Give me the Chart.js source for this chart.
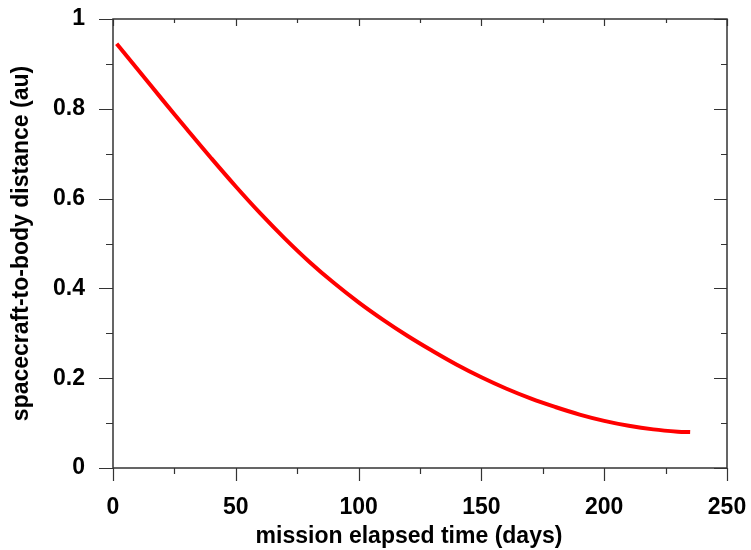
<!DOCTYPE html>
<html>
<head>
<meta charset="utf-8">
<script src="https://cdn.jsdelivr.net/npm/chart.js@4/dist/chart.umd.min.js"></script>
<style>
  html, body { margin: 0; padding: 0; background: #fff; }
  #wrap { width: 751px; height: 550px; }
</style>
</head>
<body>
<div id="wrap"><canvas id="myChart" width="751" height="550"></canvas></div>
<script>
// values
const days = [1.5, 10, 20, 30, 40, 50, 60, 70, 80, 90, 100, 110, 120, 130, 140, 150, 160, 170, 180, 190, 200, 210, 220, 230, 235];
const distance = [0.945, 0.888, 0.821, 0.755, 0.69, 0.627, 0.567, 0.511, 0.459, 0.412, 0.369, 0.33, 0.294, 0.261, 0.23, 0.202, 0.177, 0.155, 0.136, 0.119, 0.105, 0.094, 0.086, 0.081, 0.080];

const xTitle = 'mission elapsed time (days)';
const yTitle = 'spacecraft-to-body distance (au)';
const xRange = [0, 250];
const yRange = [0, 1];
const xStep = 50;
const yStep = 0.2;

const FONT = '"Liberation Sans", Arial, Helvetica, sans-serif';

// frame, tick marks (major + minor) and axis titles
const frameTicks = {
  id: 'frameTicks',
  afterDraw(chart) {
    const ctx = chart.ctx;
    const a = chart.chartArea;
    const x = chart.scales.x;
    const y = chart.scales.y;
    ctx.save();
    ctx.strokeStyle = '#333';
    ctx.lineWidth = 1.5;
    ctx.strokeRect(a.left, a.top, a.right - a.left, a.bottom - a.top);

    ctx.lineWidth = 1.2;
    ctx.beginPath();
    // x: outward below, inward at top
    for (let i = 0; i <= (xRange[1] - xRange[0]) / (xStep / 2); i++) {
      const v = xRange[0] + i * xStep / 2;
      const px = Math.round(x.getPixelForValue(v)) + 0.5;
      const major = i % 2 === 0;
      ctx.moveTo(px, a.bottom);
      ctx.lineTo(px, a.bottom + (major ? 13 : 6));
      ctx.moveTo(px, a.top);
      ctx.lineTo(px, a.top + (major ? 7 : 4));
    }
    // y: outward left, inward right
    for (let i = 0; i <= Math.round((yRange[1] - yRange[0]) / (yStep / 2)); i++) {
      const v = yRange[0] + i * yStep / 2;
      const py = Math.round(y.getPixelForValue(v)) + 0.5;
      const major = i % 2 === 0;
      ctx.moveTo(a.left, py);
      ctx.lineTo(a.left - (major ? 14 : 7), py);
      ctx.moveTo(a.right, py);
      ctx.lineTo(a.right - (major ? 13 : 6), py);
    }
    ctx.stroke();

    ctx.fillStyle = '#000';
    ctx.font = 'bold 23px ' + FONT;
    ctx.textAlign = 'center';
    ctx.textBaseline = 'middle';
    ctx.fillText(xTitle, 409, 537);
    ctx.translate(22, (a.top + a.bottom) / 2);
    ctx.rotate(-Math.PI / 2);
    ctx.fillText(yTitle, 0, 0);
    ctx.restore();
  }
};

new Chart(document.getElementById('myChart'), {
  type: 'line',
  data: {
    datasets: [{
      data: days.map((d, i) => ({ x: d, y: distance[i] })),
      borderColor: '#ff0000',
      borderWidth: 4,
      pointRadius: 0,
      tension: 0.4,
      fill: false
    }]
  },
  options: {
    responsive: false,
    animation: false,
    layout: { padding: { top: 19, right: 24, left: 0, bottom: 0 } },
    plugins: { legend: { display: false }, tooltip: { enabled: false } },
    scales: {
      x: {
        type: 'linear',
        min: xRange[0],
        max: xRange[1],
        grid: { display: false, drawTicks: false },
        border: { display: false },
        ticks: {
          stepSize: xStep,
          padding: 26,
          color: '#000',
          maxRotation: 0,
          font: { family: FONT, size: 23, weight: 'bold' }
        },
        afterFit(scale) {
          scale.height = 82;
          scale.paddingLeft = 0;
          scale.paddingRight = 0;
        }
      },
      y: {
        type: 'linear',
        min: yRange[0],
        max: yRange[1],
        grid: { display: false, drawTicks: false },
        border: { display: false },
        ticks: {
          stepSize: yStep,
          padding: 28,
          color: '#000',
          font: { family: FONT, size: 23, weight: 'bold' },
          callback: v => String(+v.toFixed(1))
        },
        afterFit(scale) {
          scale.width = 113;
          scale.paddingTop = 0;
          scale.paddingBottom = 0;
        }
      }
    }
  },
  plugins: [frameTicks]
});
</script>
</body>
</html>
